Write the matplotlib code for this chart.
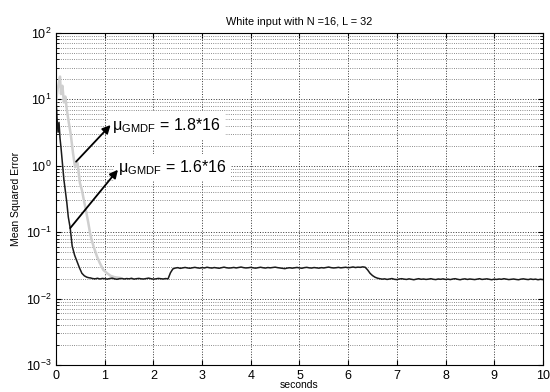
import numpy as np
import matplotlib
matplotlib.use("Agg")
from matplotlib import pyplot as plt
from matplotlib.ticker import LogLocator, NullFormatter

plt.rcParams['font.family'] = ['Liberation Sans', 'DejaVu Sans']
plt.rcParams['mathtext.fontset'] = 'custom'
plt.rcParams['mathtext.rm'] = 'Liberation Sans'
plt.rcParams['mathtext.it'] = 'Liberation Sans:italic'

# mu = 1.6*16 curve (black)
t_fast = [0.0, 0.02, 0.04, 0.06, 0.08, 0.10, 0.13, 0.16, 0.19, 0.22, 0.25, 0.29,
          0.33, 0.38, 0.43, 0.48, 0.53, 0.58, 0.63, 0.68]
mse_fast = [10.0, 5.0, 3.2, 4.5, 2.6, 1.9, 1.1, 0.62, 0.42, 0.28, 0.17, 0.115,
            0.062, 0.045, 0.036, 0.029, 0.024, 0.022, 0.021, 0.0205]

plateau1 = [0.0205, 0.0200, 0.0198, 0.0202, 0.0197, 0.0201, 0.0199, 0.0196, 0.0200,
            0.0203, 0.0198, 0.0195, 0.0199, 0.0201, 0.0197, 0.0200, 0.0198, 0.0202,
            0.0196, 0.0199, 0.0201, 0.0198, 0.0197, 0.0200, 0.0203, 0.0199, 0.0196,
            0.0198, 0.0201, 0.0199, 0.0197, 0.0200, 0.0198]
step_up_t = [2.35, 2.40]
step_up = [0.0245, 0.0280]
plateau2 = [0.0288, 0.0292, 0.0285, 0.0290, 0.0294, 0.0289, 0.0286, 0.0291, 0.0295,
            0.0290, 0.0287, 0.0292, 0.0289, 0.0296, 0.0291, 0.0288, 0.0293, 0.0290,
            0.0286, 0.0292, 0.0297, 0.0291, 0.0288, 0.0290, 0.0294, 0.0289, 0.0293,
            0.0298, 0.0292, 0.0289, 0.0291, 0.0295, 0.0290, 0.0287, 0.0292, 0.0296,
            0.0291, 0.0288, 0.0293, 0.0290, 0.0294, 0.0297, 0.0292, 0.0289, 0.0285,
            0.0282, 0.0288, 0.0291, 0.0287, 0.0290, 0.0294, 0.0289, 0.0286, 0.0292,
            0.0295, 0.0290, 0.0288, 0.0293, 0.0290, 0.0287, 0.0292, 0.0289, 0.0294,
            0.0298, 0.0292, 0.0289, 0.0291, 0.0295, 0.0290, 0.0293, 0.0296, 0.0291,
            0.0294, 0.0299, 0.0293, 0.0297, 0.0295, 0.0300, 0.0296]
drop_t = [6.40, 6.45, 6.50, 6.55, 6.60]
drop = [0.0270, 0.0240, 0.0222, 0.0210, 0.0203]
plateau3 = [0.0199, 0.0196, 0.0198, 0.0194, 0.0197, 0.0200, 0.0195, 0.0193, 0.0197,
            0.0199, 0.0196, 0.0194, 0.0198, 0.0195, 0.0192, 0.0196, 0.0199, 0.0195,
            0.0197, 0.0194, 0.0196, 0.0199, 0.0195, 0.0193, 0.0197, 0.0195, 0.0198,
            0.0194, 0.0196, 0.0193, 0.0197, 0.0199, 0.0195, 0.0192, 0.0196, 0.0198,
            0.0194, 0.0197, 0.0195, 0.0193, 0.0196, 0.0199, 0.0194, 0.0196, 0.0198,
            0.0195, 0.0192, 0.0196, 0.0194, 0.0197, 0.0195, 0.0199, 0.0196, 0.0193,
            0.0195, 0.0197, 0.0194, 0.0192, 0.0196, 0.0198, 0.0195, 0.0193, 0.0197,
            0.0194, 0.0196, 0.0192, 0.0195, 0.0193]

# mu = 1.8*16 curve (gray)
t_gray = [0.0, 0.03, 0.06, 0.08, 0.10, 0.13, 0.16, 0.19, 0.22, 0.26, 0.30, 0.35,
          0.39, 0.44, 0.49, 0.53, 0.58, 0.62, 0.66, 0.70, 0.73, 0.78, 0.84, 0.90,
          0.97, 1.05, 1.12, 1.20, 1.30]
mse_gray = [9.0, 14.0, 18.0, 22.0, 12.0, 16.0, 9.0, 11.0, 7.0, 4.5, 3.0, 1.5,
            0.95, 1.1, 0.55, 0.43, 0.28, 0.20, 0.14, 0.095, 0.076, 0.058, 0.043,
            0.034, 0.027, 0.024, 0.022, 0.021, 0.0205]

t_black = np.concatenate([t_fast,
                          np.linspace(0.70, 2.30, len(plateau1)),
                          step_up_t,
                          np.linspace(2.45, 6.35, len(plateau2)),
                          drop_t,
                          np.linspace(6.65, 10.0, len(plateau3))])
mse_black = np.concatenate([mse_fast, plateau1, step_up, plateau2, drop, plateau3])

fig = plt.figure(figsize=(5.5, 3.92), dpi=100)
ax = fig.add_axes([0.102, 0.069, 0.885, 0.847])

ax.plot(t_gray, mse_gray, color='#cfcfcf', lw=1.8)
ax.plot(t_black, mse_black, color='#1a1a1a', lw=1.1)

ax.set_yscale('log')
ax.set_xlim(0, 10)
ax.set_ylim(1e-3, 1e2)
ax.set_xticks(range(11))
ax.yaxis.set_major_locator(LogLocator(base=10, numticks=10))
ax.yaxis.set_minor_locator(LogLocator(base=10, subs=np.arange(2, 10), numticks=10))
ax.yaxis.set_minor_formatter(NullFormatter())

ax.grid(True, which='major', axis='both', ls=':', color='#333333', lw=0.7)
ax.grid(True, which='minor', axis='y', ls=':', color='#666666', lw=0.6)
ax.tick_params(which='both', direction='in', top=True, right=True, labelsize=9)
ax.tick_params(which='minor', length=2)

ax.set_title('White input with N =16, L = 32', fontsize=7.8, pad=6)
ax.set_xlabel('seconds', fontsize=7.5, labelpad=-1)
ax.set_ylabel('Mean Squared Error', fontsize=7.5, labelpad=3)

box = dict(facecolor='white', edgecolor='none', pad=3)
ax.annotate(r'μ$_{\mathrm{GMDF}}$ = 1.8*16', xy=(1.12, 4.1), xytext=(1.15, 4.1),
            fontsize=11.5, va='center', bbox=box)
ax.annotate('', xy=(1.12, 4.1), xytext=(0.41, 1.15),
            arrowprops=dict(arrowstyle='-|>', color='black', lw=1.3,
                            mutation_scale=12, shrinkA=0, shrinkB=0))
ax.annotate(r'μ$_{\mathrm{GMDF}}$ = 1.6*16', xy=(1.27, 0.87), xytext=(1.28, 0.95),
            fontsize=11.5, va='center', bbox=box)
ax.annotate('', xy=(1.27, 0.87), xytext=(0.29, 0.115),
            arrowprops=dict(arrowstyle='-|>', color='black', lw=1.3,
                            mutation_scale=12, shrinkA=0, shrinkB=0))

fig.savefig('out.png', dpi=100)
